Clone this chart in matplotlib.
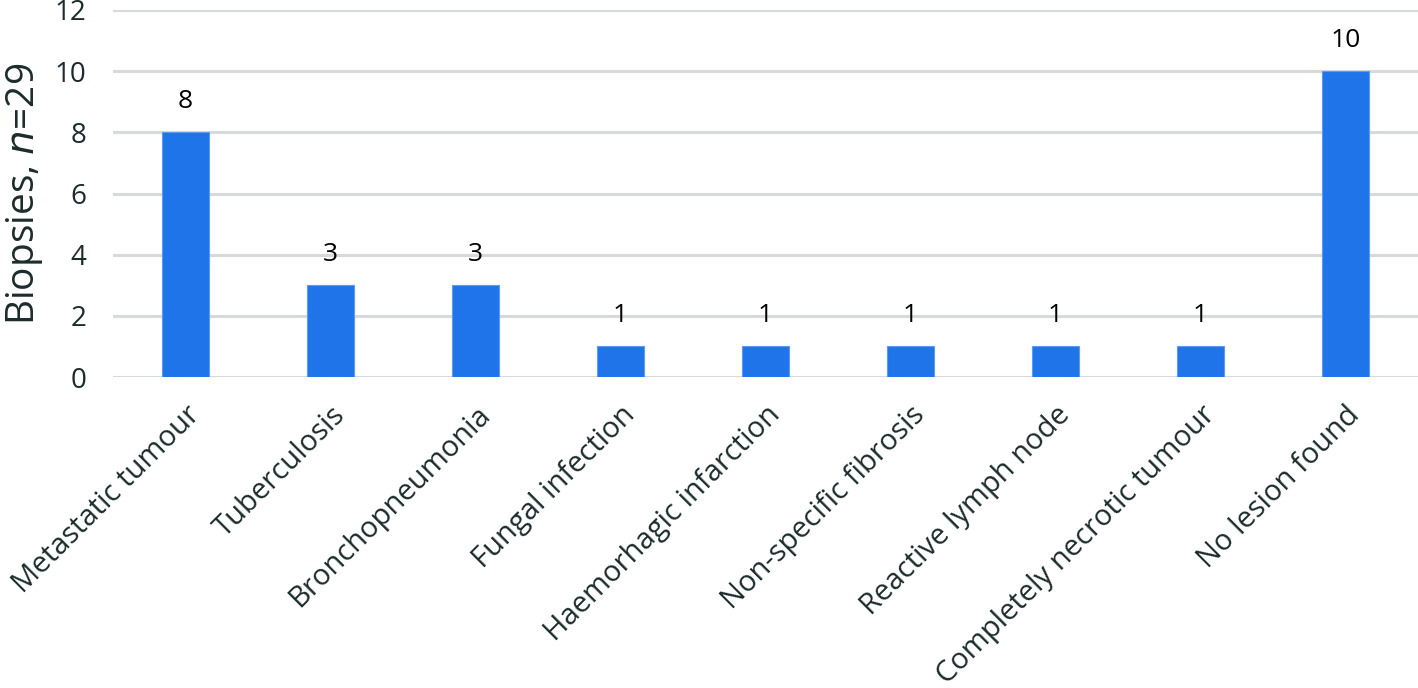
import numpy as np
import matplotlib
matplotlib.use('Agg')
from matplotlib import pyplot as plt

categories = ['Metastatic tumour', 'Tuberculosis', 'Bronchopneumonia', 'Fungal infection',
              'Haemorhagic infarction', 'Non-specific fibrosis', 'Reactive lymph node',
              'Completely necrotic tumour', 'No lesion found']
counts = [8, 3, 3, 1, 1, 1, 1, 1, 10]
yticks = [0, 2, 4, 6, 8, 10, 12]

plt.rcParams['font.family'] = ['Open Sans', 'DejaVu Sans']

fig = plt.figure(figsize=(14.18, 6.88), dpi=100)
ax = fig.add_axes([113 / 1418, 1 - 377 / 688, 1305 / 1418, 367 / 688])

x = np.arange(len(categories))
ax.bar(x, counts, width=0.32, color='#1f74ea', edgecolor='#5b9cf0', linewidth=0.8, zorder=3)

for xi, c in zip(x, counts):
    ax.text(xi, c + 0.6, str(c), ha='center', va='bottom', fontsize=19, color='black')

ax.set_xlim(-0.5, len(categories) - 0.5)
ax.set_ylim(0, 12)
ax.set_yticks(yticks)
ax.set_yticklabels([str(t) for t in yticks], fontsize=20, color='#1c2b2b')
ax.yaxis.grid(True, color='#d6dadb', linewidth=2.2, zorder=0)
ax.tick_params(axis='y', length=0, pad=19)
ax.tick_params(axis='x', length=0, pad=17)

ax.set_xticks(x)
ax.set_xticklabels(categories, rotation=45, ha='right', rotation_mode='anchor',
                   fontsize=21, color='#1c2b2b')

for s in ax.spines.values():
    s.set_visible(False)

ax.set_ylabel('Biopsies, $\\it{n}$=29', fontsize=28, color='#1c2b2b')
ax.yaxis.set_label_coords(-0.052, 0.5)

fig.savefig('out.png', dpi=100)
